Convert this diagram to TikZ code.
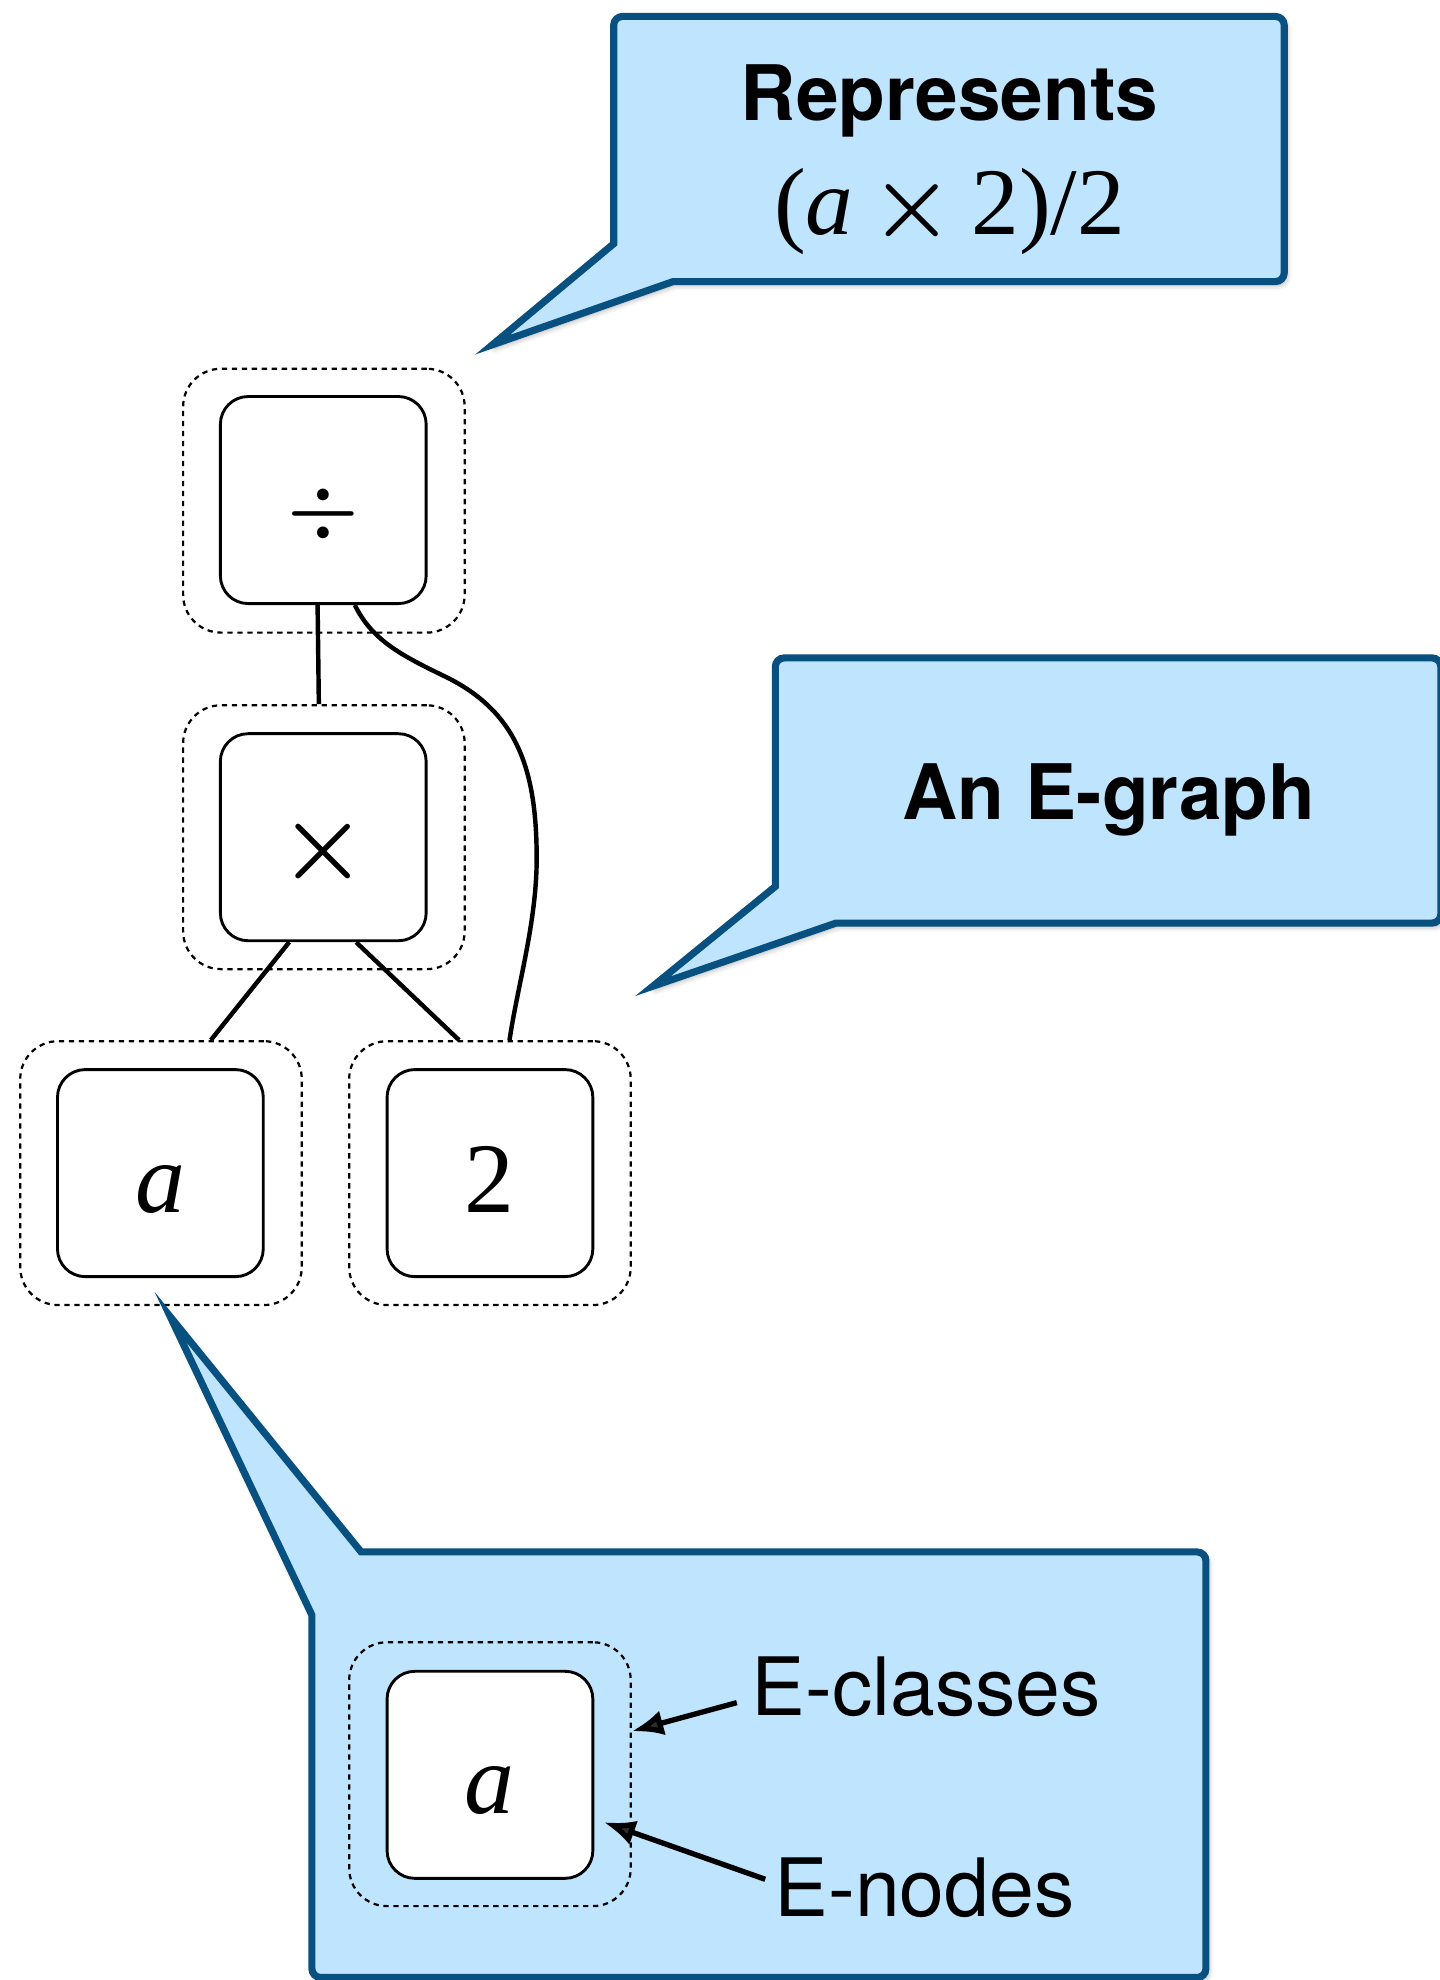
\documentclass[tikz,border=0pt]{standalone}
\usepackage{fontspec}
\setmainfont{Liberation Serif}
\newfontfamily\hel{TeX Gyre Heros}
\newfontfamily\lmr{Latin Modern Roman}
\usetikzlibrary{arrows.meta,shadows.blur}
\definecolor{calloutfill}{RGB}{190,229,253}
\definecolor{calloutline}{RGB}{7,80,128}

\begin{document}
\begin{tikzpicture}[x=0.02cm,y=-0.02cm,
  enode/.style={draw, line width=1.3pt, fill=white, rounded corners=0.44cm,
    minimum width=3.26cm, minimum height=3.28cm, inner sep=0pt,
    font=\fontsize{45}{54}\selectfont, text height=45pt, text depth=9.9pt},
  eclass/.style={draw, line width=1pt, dash pattern=on 2.4pt off 2.1pt,
    rounded corners=0.6cm, minimum width=4.46cm, minimum height=4.18cm, inner sep=0pt},
  link/.style={line width=2pt},
  callout/.style={draw=calloutline, fill=calloutfill, line width=3.2pt,
    blur shadow={shadow xshift=1pt, shadow yshift=-1.5pt, shadow blur radius=2.5pt, shadow opacity=35}},
  headline/.style={font=\hel\bfseries\fontsize{34.5}{40}\selectfont, inner sep=0pt, anchor=base},
  tag/.style={font=\hel\fontsize{36.3}{40}\selectfont, inner sep=0pt, anchor=base west},
  callarrow/.style={-{Latex[length=0.5cm,width=0.4cm]}, line width=2.4pt},
]
\useasboundingbox (0,0) rectangle (1140,1568);

% the e-graph: e-classes (dashed) holding e-nodes (solid)
\node[eclass] (divc) at (256.5,396.5) {};
\node[enode]  (div)  at (256,396) {\lmr\bfseries\fontsize{37}{40}\selectfont\raisebox{2pt}{÷}};
\node[eclass] (mulc) at (256.5,663) {};
\node[enode]  (mul)  at (256,663) {\lmr\bfseries ×};
\node[eclass] (ac)   at (127.5,929) {};
\node[enode]  (a)    at (127,929) {\textit{a}};
\node[eclass] (twoc) at (388,929) {};
\node[enode]  (two)  at (388,929) {2};

\draw[link] ([xshift=-0.09cm]div.south) -- ([xshift=-0.08cm]mulc.north);
\draw[link] ([xshift=0.5cm]div.south) .. controls (295,508) and (320,520) .. (355,537)
  .. controls (410,565) and (425,610) .. (425,680)
  .. controls (425,730) and (410,780) .. ([xshift=0.31cm]twoc.north);
\draw[link] ([xshift=-0.54cm]mul.south) -- ([xshift=0.79cm]ac.north);
\draw[link] ([xshift=0.52cm]mul.south) -- ([xshift=-0.49cm]twoc.north);

% callout: expression
\draw[callout] (390,273) -- (486,193) [rounded corners=0.14cm] -- (486,13) -- (1017,13)
  -- (1017,223) [sharp corners] -- (533,223) -- cycle;
\node[headline] (rep) at (752,95.5) {Represents};
\node[inner sep=0pt, anchor=base, font=\fontsize{43}{50}\selectfont] (expr) at (752,186)
  {(\textit{a}\hspace{0.18em}{\lmr\bfseries ×}\hspace{0.18em}2)/2};

% callout: title
\draw[callout] (517,781) -- (614,702) [rounded corners=0.14cm] -- (614,521) -- (1141,521)
  -- (1141,731) [sharp corners] -- (662,731) -- cycle;
\node[headline] (title) at (878,649) {An E-graph};

% callout: legend
\draw[callout] (135,1043) -- (247,1279) [rounded corners=0.14cm] -- (247,1566) -- (955,1566)
  -- (955,1229) [sharp corners] -- (286,1229) -- cycle;
\node[eclass] (cls3) at (388,1405) {};
\node[enode]  (nd3)  at (388,1405.5) {\textit{a}};
\node[tag] (ecl) at (595,1358.6) {E-classes};
\node[tag] (enl) at (613,1518) {E-nodes};
\draw[callarrow] ([xshift=-0.23cm,yshift=-0.25cm]ecl.west) -- ([yshift=0.68cm]cls3.east);
\draw[callarrow] ([xshift=-0.14cm,yshift=0.14cm]enl.west) -- ([xshift=0.15cm,yshift=-0.75cm]nd3.east);
\end{tikzpicture}
\end{document}
